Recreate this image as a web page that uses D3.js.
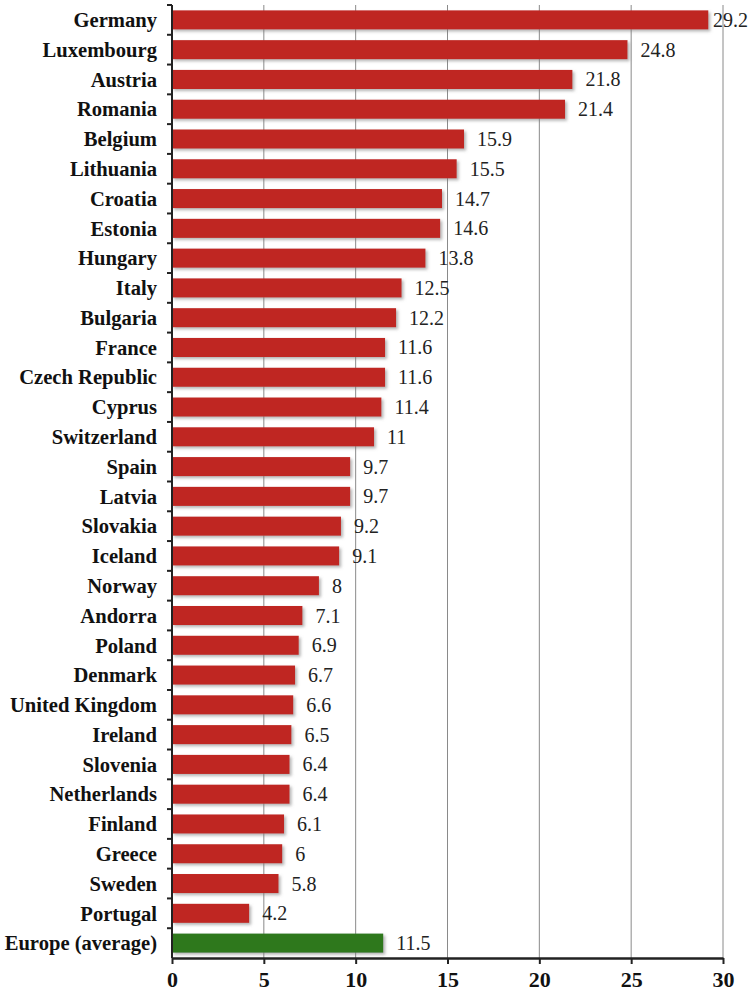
<!DOCTYPE html>
<html><head><meta charset="utf-8">
<script src="https://cdn.jsdelivr.net/npm/d3@7"></script>
<style>body{margin:0;background:#fff}svg{display:block}
text{font-family:"Liberation Serif","Times New Roman",Times,"DejaVu Serif",serif}</style>
</head><body>
<script>
const countries = ["Germany","Luxembourg","Austria","Romania","Belgium","Lithuania","Croatia","Estonia","Hungary","Italy","Bulgaria","France","Czech Republic","Cyprus","Switzerland","Spain","Latvia","Slovakia","Iceland","Norway","Andorra","Poland","Denmark","United Kingdom","Ireland","Slovenia","Netherlands","Finland","Greece","Sweden","Portugal","Europe (average)"];
const values = [29.2,24.8,21.8,21.4,15.9,15.5,14.7,14.6,13.8,12.5,12.2,11.6,11.6,11.4,11,9.7,9.7,9.2,9.1,8,7.1,6.9,6.7,6.6,6.5,6.4,6.4,6.1,6,5.8,4.2,11.5];
const xTicks = [0,5,10,15,20,25,30];
const highlight = "Europe (average)";

const W = 754, H = 992;
const m = {left:172, right:31, top:5, bottom:34};
const data = countries.map((c,i)=>({c, v: values[i]}));

const svg = d3.select("body").append("svg").attr("width",W).attr("height",H);
const defs = svg.append("defs");
const f = defs.append("filter").attr("id","sh").attr("x","-5%").attr("y","-30%").attr("width","115%").attr("height","170%");
f.append("feDropShadow").attr("dx",2).attr("dy",2).attr("stdDeviation",1.4).attr("flood-color","#777").attr("flood-opacity",0.55);

const x = d3.scaleLinear().domain([0,30]).range([m.left, W-m.right]);
const y = d3.scaleBand().domain(countries).range([m.top, H-m.bottom]).paddingInner(0.36).paddingOuter(0.18);
const yb = d3.scaleLinear().domain([0,countries.length]).range([m.top, H-m.bottom]);

// gridlines
svg.append("g").selectAll("line").data(xTicks.filter(t=>t>0)).join("line")
  .attr("x1",d=>x(d)).attr("x2",d=>x(d)).attr("y1",m.top).attr("y2",H-m.bottom)
  .attr("stroke","#8a8a8a").attr("stroke-width",1);

// bars
svg.append("g").selectAll("rect").data(data).join("rect")
  .attr("x",x(0)).attr("y",d=>y(d.c)).attr("width",d=>x(d.v)-x(0)).attr("height",y.bandwidth())
  .attr("fill",d=>d.c===highlight?"#2f781f":"#bf2723")
  .attr("filter","url(#sh)");

// value labels
svg.append("g").selectAll("text").data(data).join("text")
  .attr("x",d=>Math.min(x(d.v)+13, 713)).attr("y",d=>y(d.c)+y.bandwidth()/2).attr("dy","0.35em")
  .attr("font-size",20).attr("fill","#222")
  .text(d=>d.v);

// y axis
const ya = svg.append("g");
ya.append("line").attr("x1",x(0)).attr("x2",x(0)).attr("y1",m.top).attr("y2",H-m.bottom).attr("stroke","#222").attr("stroke-width",2);
ya.selectAll("line.t").data(d3.range(countries.length)).join("line").attr("class","t")
  .attr("x1",x(0)-5).attr("x2",x(0)).attr("y1",d=>yb(d)).attr("y2",d=>yb(d)).attr("stroke","#222").attr("stroke-width",2);
ya.selectAll("text").data(countries).join("text")
  .attr("x",x(0)-15).attr("y",d=>y(d)+y.bandwidth()/2).attr("dy","0.35em").attr("text-anchor","end")
  .attr("font-weight","bold").attr("font-size",20.6).attr("fill","#111")
  .text(d=>d);

// x axis
const xa = svg.append("g").attr("transform",`translate(0,${H-m.bottom})`)
  .call(d3.axisBottom(x).tickValues(xTicks).tickSize(6).tickPadding(7).tickSizeOuter(0));
xa.attr("font-family",null);
xa.select(".domain").attr("stroke","#222").attr("stroke-width",2.5);
xa.selectAll(".tick line").attr("stroke","#222").attr("stroke-width",2);
xa.selectAll(".tick text").attr("font-weight","bold").attr("font-size",22).attr("fill","#111");
</script>
</body></html>
